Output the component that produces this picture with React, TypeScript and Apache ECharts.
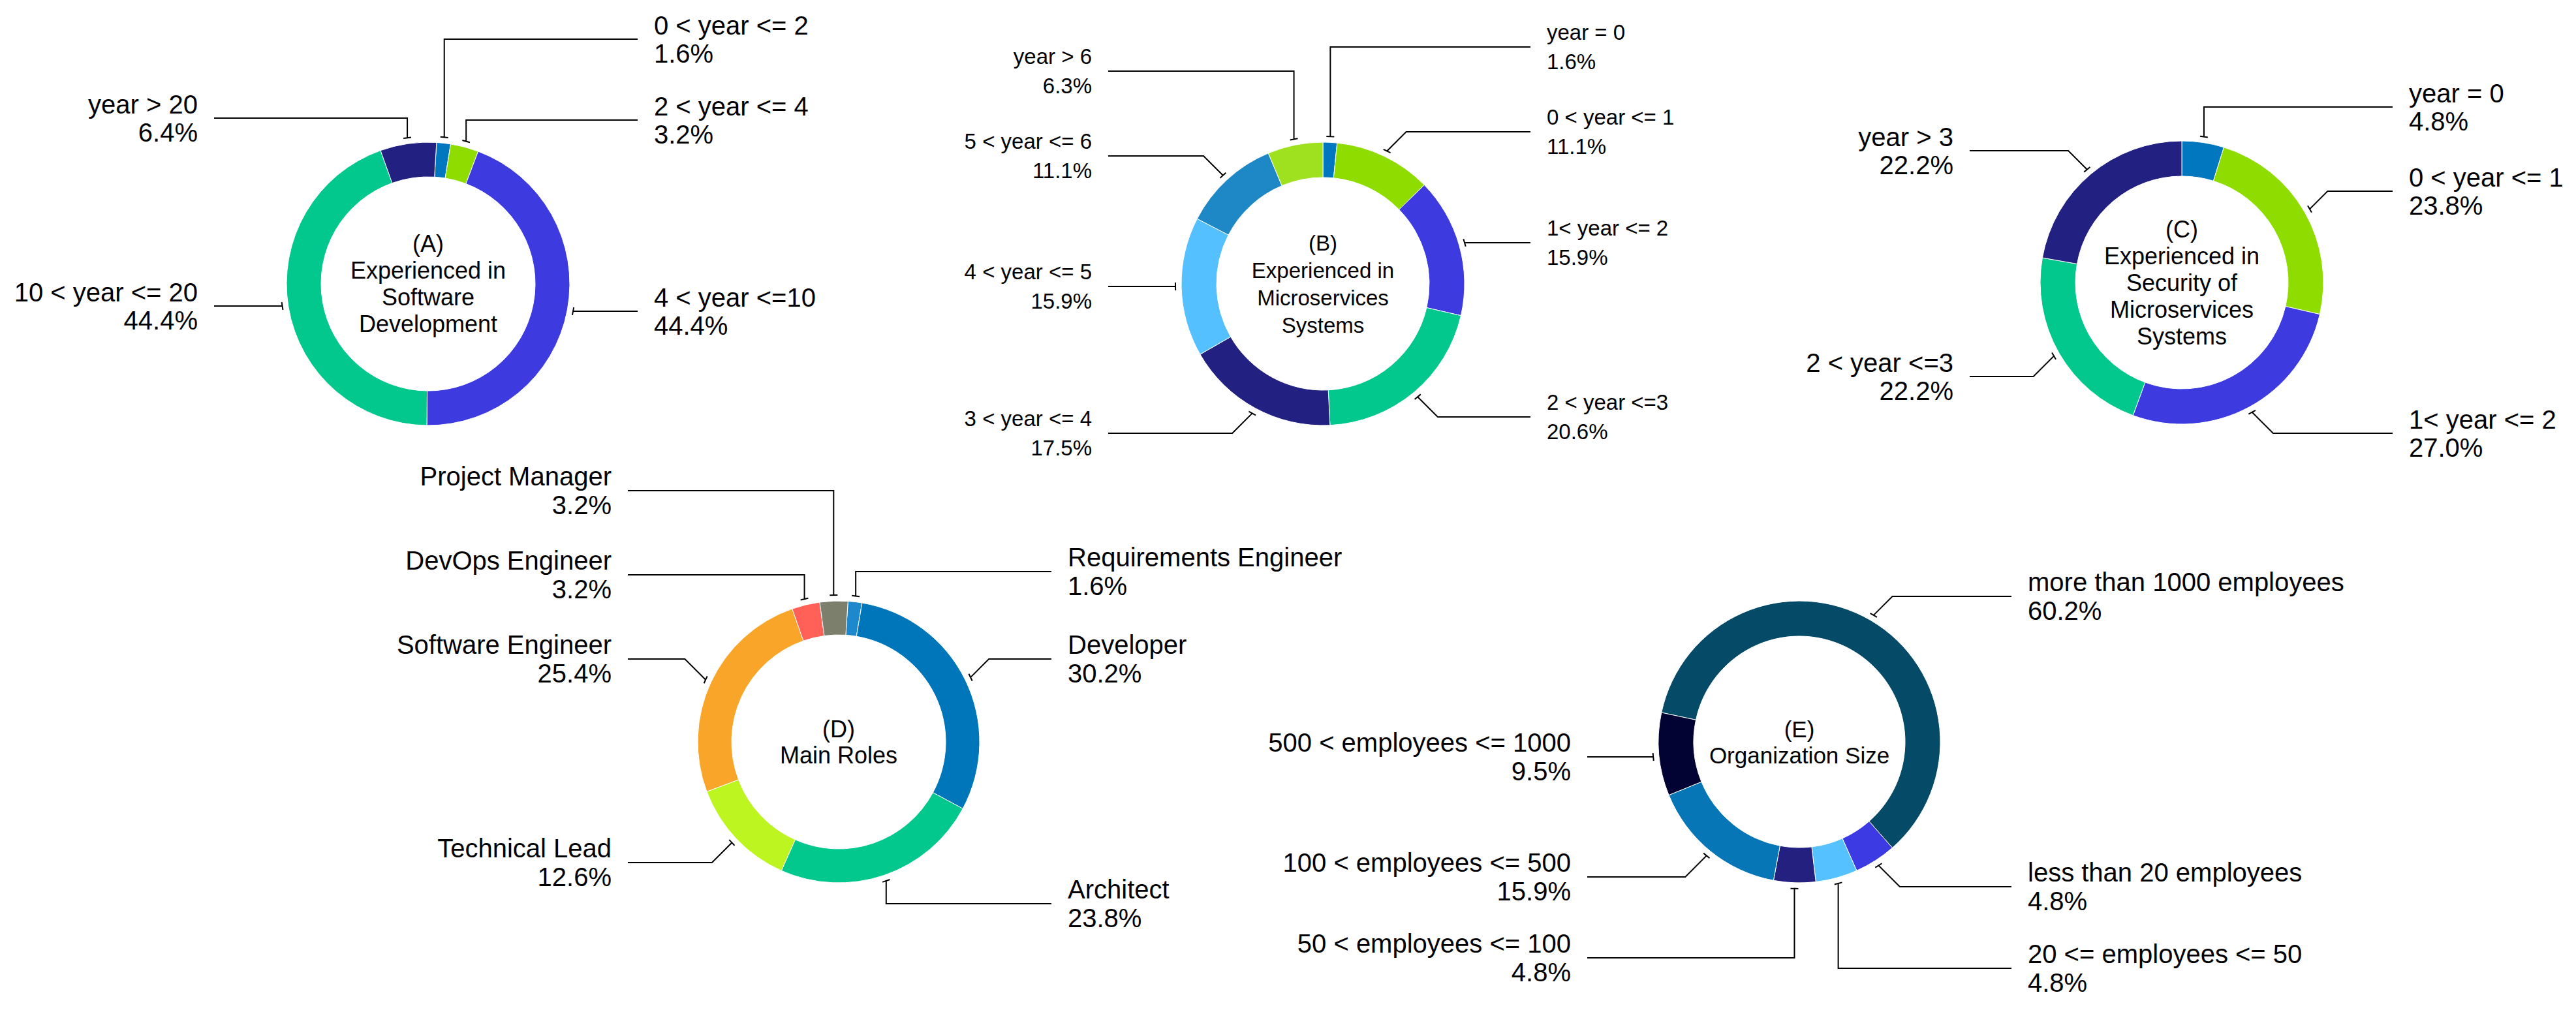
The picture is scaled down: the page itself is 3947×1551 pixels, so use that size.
import React, { useEffect, useRef } from 'react';
import * as echarts from 'echarts';

const FONT = '"Liberation Sans", Arial, Helvetica, sans-serif';

// ---------- data ----------
// (A) Experienced in Software Development
const softwareExpCategories = ['0 < year <= 2', '2 < year <= 4', '4 < year <=10', '10 < year <= 20', 'year > 20'];
const softwareExpValues = [1.6, 3.2, 44.4, 44.4, 6.4];

// (B) Experienced in Microservices Systems
const microExpCategories = ['year = 0', '0 < year <= 1', '1< year <= 2', '2 < year <=3', '3 < year <= 4', '4 < year <= 5', '5 < year <= 6', 'year > 6'];
const microExpValues = [1.6, 11.1, 15.9, 20.6, 17.5, 15.9, 11.1, 6.3];

// (C) Experienced in Security of Microservices Systems
const securityExpCategories = ['year = 0', '0 < year <= 1', '1< year <= 2', '2 < year <=3', 'year > 3'];
const securityExpValues = [4.8, 23.8, 27.0, 22.2, 22.2];

// (D) Main Roles
const roleCategories = ['Requirements Engineer', 'Developer', 'Architect', 'Technical Lead', 'Software Engineer', 'DevOps Engineer', 'Project Manager'];
const roleValues = [1.6, 30.2, 23.8, 12.6, 25.4, 3.2, 3.2];

// (E) Organization Size
const orgSizeCategories = ['more than 1000 employees', 'less than 20 employees', '20 <= employees <= 50', '50 < employees <= 100', '100 < employees <= 500', '500 < employees <= 1000'];
const orgSizeValues = [60.2, 4.8, 4.8, 4.8, 15.9, 9.5];

// ---------- layout / style ----------
type Side = 'L' | 'R';
interface PieCfg {
  categories: string[];
  values: number[];
  colors: string[];
  center: [number, number];
  radius: [number, number];
  startAngle: number;
  title: string;
  titleSize: number;
  titleLineHeight: number;
  labelSize: number;
  labelLineHeight: number;
  leftX: number;
  rightX: number;
  sides: Side[];
  labelYs: number[];
}

const PIES: PieCfg[] = [
  {
    categories: softwareExpCategories,
    values: softwareExpValues,
    colors: ['#0077be', '#8fdc00', '#3d3ae0', '#03c88e', '#222080'],
    center: [656, 435],
    radius: [164, 217],
    startAngle: 86.6,
    title: '(A)\nExperienced in\nSoftware\nDevelopment',
    titleSize: 36,
    titleLineHeight: 41,
    labelSize: 40,
    labelLineHeight: 43,
    leftX: 303,
    rightX: 1002,
    sides: ['R', 'R', 'R', 'L', 'L'],
    labelYs: [60, 184, 477, 469, 181],
  },
  {
    categories: microExpCategories,
    values: microExpValues,
    colors: ['#0077be', '#8fdc00', '#3d3ae0', '#03c88e', '#222080', '#55c0ff', '#1e87c6', '#9fe01f'],
    center: [2027, 435],
    radius: [163, 217],
    startAngle: 90,
    title: '(B)\nExperienced in\nMicroservices\nSystems',
    titleSize: 33,
    titleLineHeight: 42,
    labelSize: 33,
    labelLineHeight: 45,
    leftX: 1673,
    rightX: 2370,
    sides: ['R', 'R', 'R', 'R', 'L', 'L', 'L', 'L'],
    labelYs: [72, 202, 372, 639, 664, 439, 239, 109],
  },
  {
    categories: securityExpCategories,
    values: securityExpValues,
    colors: ['#0077be', '#8fdc00', '#3d3ae0', '#03c88e', '#222080'],
    center: [3343, 433],
    radius: [163, 217],
    startAngle: 90,
    title: '(C)\nExperienced in\nSecurity of\nMicroservices\nSystems',
    titleSize: 36,
    titleLineHeight: 41,
    labelSize: 40,
    labelLineHeight: 43,
    leftX: 2993,
    rightX: 3691,
    sides: ['R', 'R', 'R', 'L', 'L'],
    labelYs: [164, 293, 664, 577, 231],
  },
  {
    categories: roleCategories,
    values: roleValues,
    colors: ['#1e88cc', '#0076ba', '#03c88e', '#bdf521', '#f9a52a', '#ff6057', '#7b7f6b'],
    center: [1285, 1137],
    radius: [164, 216],
    startAngle: 86.2,
    title: '(D)\nMain Roles',
    titleSize: 36,
    titleLineHeight: 40,
    labelSize: 40,
    labelLineHeight: 44,
    leftX: 937,
    rightX: 1636,
    sides: ['R', 'R', 'R', 'L', 'L', 'L', 'L'],
    labelYs: [876, 1010, 1385, 1322, 1010, 881, 752],
  },
  {
    categories: orgSizeCategories,
    values: orgSizeValues,
    colors: ['#054a66', '#3c3ae2', '#55c1ff', '#232080', '#0676b7', '#020233'],
    center: [2757, 1137],
    radius: [162, 216],
    startAngle: 168,
    title: '(E)\nOrganization Size',
    titleSize: 35,
    titleLineHeight: 40,
    labelSize: 40,
    labelLineHeight: 44,
    leftX: 2407,
    rightX: 3107,
    sides: ['R', 'R', 'R', 'L', 'L', 'L'],
    labelYs: [914, 1359, 1484, 1468, 1344, 1160],
  },
];

const LEADER_GAP = 9; // distance of leader end from ring
const TEXT_GAP = 25; // distance between leader and label text
const TICK = 6; // half length of end tick

function makeLabelLayout(cfg: PieCfg) {
  const total = cfg.values.reduce((a, b) => a + b, 0);
  const theta0 = 90 - cfg.startAngle; // clockwise from top
  const mids: number[] = [];
  let acc = 0;
  cfg.values.forEach((v) => {
    const span = (v / total) * 360;
    mids.push(theta0 + acc + span / 2);
    acc += span;
  });
  const [cx, cy] = cfg.center;
  const rr = cfg.radius[1] + LEADER_GAP;
  return (params: any) => {
    const i = params.dataIndex;
    const mid = ((mids[i] % 360) + 360) % 360;
    const th = (mid * Math.PI) / 180;
    const side = cfg.sides[i];
    const ly = cfg.labelYs[i];
    const endX = side === 'R' ? cfg.rightX - TEXT_GAP : cfg.leftX + TEXT_GAP;
    const q = (Math.round(mid / 45) * 45 * Math.PI) / 180;
    const ux = Math.round(Math.sin(q));
    const uy = Math.round(-Math.cos(q));
    let px = cx + rr * Math.sin(th);
    let py = cy - rr * Math.cos(th);
    let elbow: number[];
    if (uy === 0) {
      const dy = ly - cy;
      const dx = Math.sqrt(Math.max(rr * rr - dy * dy, 0));
      px = cx + (ux > 0 ? dx : -dx);
      py = ly;
      elbow = [px, py];
    } else if (ux === 0) {
      elbow = [px, ly];
    } else {
      elbow = [px + ux * Math.abs(ly - py), ly];
    }
    const tth = Math.atan2(px - cx, -(py - cy));
    const tx = Math.cos(tth);
    const ty = Math.sin(tth);
    const points = [
      [px + tx * TICK, py + ty * TICK],
      [px - tx * TICK, py - ty * TICK],
      [px, py],
      elbow,
      [endX, ly],
    ];
    return {
      x: side === 'R' ? cfg.rightX : cfg.leftX,
      y: ly,
      align: side === 'R' ? 'left' : 'right',
      verticalAlign: 'middle',
      labelLinePoints: points,
    };
  };
}

function buildOption() {
  return {
    animation: false,
    backgroundColor: '#ffffff',
    series: PIES.map((cfg) => ({
      type: 'pie',
      center: cfg.center,
      radius: cfg.radius,
      startAngle: cfg.startAngle,
      clockwise: true,
      avoidLabelOverlap: false,
      silent: true,
      itemStyle: { borderColor: '#ffffff', borderWidth: 1 },
      label: {
        show: true,
        position: 'outside',
        color: '#000000',
        fontFamily: FONT,
        fontSize: cfg.labelSize,
        lineHeight: cfg.labelLineHeight,
        formatter: (p: any) => `${p.name}\n${Number(p.value).toFixed(1)}%`,
      },
      labelLine: {
        show: true,
        length: 10,
        length2: 10,
        lineStyle: { color: '#000000', width: 2 },
      },
      labelLayout: makeLabelLayout(cfg),
      data: cfg.categories.map((name, i) => ({
        name,
        value: cfg.values[i],
        itemStyle: { color: cfg.colors[i] },
      })),
    })),
    graphic: PIES.map((cfg) => ({
      type: 'text',
      x: cfg.center[0],
      y: cfg.center[1],
      silent: true,
      style: {
        text: cfg.title,
        fill: '#000000',
        fontFamily: FONT,
        fontSize: cfg.titleSize,
        lineHeight: cfg.titleLineHeight,
        align: 'center',
        verticalAlign: 'middle',
        textAlign: 'center',
        textVerticalAlign: 'middle',
      },
    })),
  };
}

export default function App() {
  const ref = useRef<HTMLDivElement>(null);
  useEffect(() => {
    if (!ref.current) return;
    const chart = echarts.init(ref.current, undefined, { renderer: 'svg' });
    chart.setOption(buildOption() as any);
    return () => chart.dispose();
  }, []);
  return (
    <div
      ref={ref}
      style={{ position: 'fixed', left: 0, top: 0, width: 3947, height: 1551, background: '#fff' }}
    />
  );
}
